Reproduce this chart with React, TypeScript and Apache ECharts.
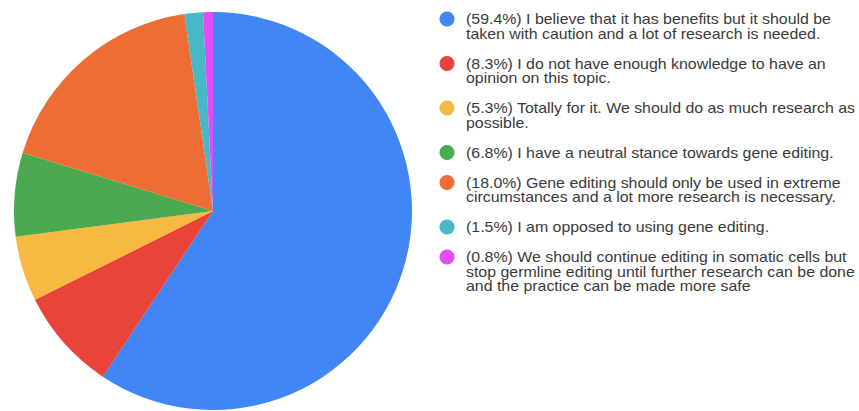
import React, { useEffect, useRef } from "react";
import * as echarts from "echarts";

const categories: string[] = [
  "I believe that it has benefits but it should be\ntaken with caution and a lot of research is needed.",
  "I do not have enough knowledge to have an\nopinion on this topic.",
  "Totally for it. We should do as much research as\npossible.",
  "I have a neutral stance towards gene editing.",
  "Gene editing should only be used in extreme\ncircumstances and a lot more research is necessary.",
  "I am opposed to using gene editing.",
  "We should continue editing in somatic cells but\nstop germline editing until further research can be done\nand the practice can be made more safe",
];
const percentLabels: string[] = ["59.4%", "8.3%", "5.3%", "6.8%", "18.0%", "1.5%", "0.8%"];
const values: number[] = [59.4, 8.3, 5.3, 6.8, 18.0, 1.5, 0.8];
const colors: string[] = ["#4285F4", "#E8443A", "#F7B941", "#4BA94F", "#EE6D35", "#46B8C6", "#E34BF8"];

export default function App() {
  const ref = useRef<HTMLDivElement>(null);
  useEffect(() => {
    if (!ref.current) return;
    const chart = echarts.init(ref.current, null, { renderer: "svg" });

    const lineHeight = 14.5;
    const gap = 15.5;
    let y = 19;
    const legendEls: any[] = [];
    categories.forEach((cat, i) => {
      const lines = cat.split("\n").length;
      legendEls.push({
        type: "circle",
        shape: { cx: 447, cy: y, r: 7.5 },
        style: { fill: colors[i] },
      });
      legendEls.push({
        type: "text",
        x: 466,
        y: y - lineHeight / 2,
        scaleX: 1.137,
        style: {
          text: `(${percentLabels[i]}) ${cat}`,
          fill: "#3a3a3a",
          font: '14px "Liberation Sans", Arial, sans-serif',
          lineHeight: lineHeight,
          verticalAlign: "top",
          align: "left",
        },
      });
      y += lines * lineHeight + gap;
    });

    chart.setOption({
      animation: false,
      backgroundColor: "#ffffff",
      series: [
        {
          type: "pie",
          center: [213, 211],
          radius: 199,
          startAngle: 90,
          clockwise: true,
          label: { show: false },
          labelLine: { show: false },
          itemStyle: { borderWidth: 0 },
          emphasis: { disabled: true },
          data: values.map((v, i) => ({
            value: v,
            name: categories[i],
            itemStyle: { color: colors[i] },
          })),
        },
      ],
      graphic: legendEls,
    });
    return () => chart.dispose();
  }, []);
  return <div ref={ref} style={{ width: 859, height: 411, position: "absolute", left: 0, top: 0 }} />;
}
